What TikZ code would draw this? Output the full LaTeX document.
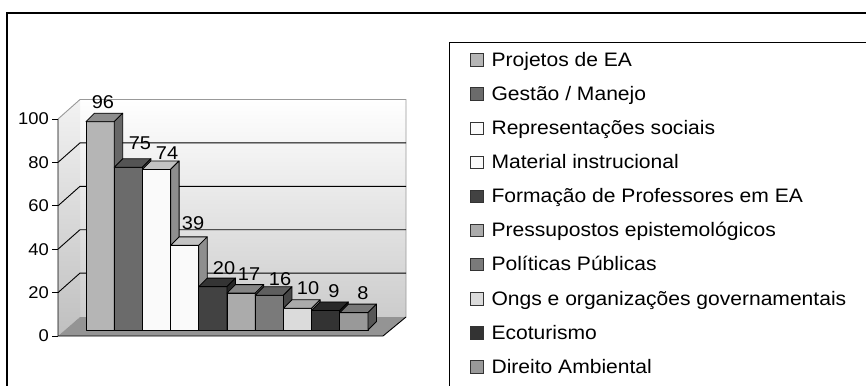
\documentclass[tikz,border=0pt]{standalone}
\usepackage{fontspec}
\setmainfont{Liberation Sans}[FakeStretch=1.08]
\usepackage{tikz}

\tikzset{
  gridline/.style={black,line width=0.9pt},
  wallline/.style={black!40,line width=0.9pt},
  barface/.style={draw=black,line width=0.8pt,line join=round},
  axislabel/.style={font=\fontsize{17}{18}\selectfont,anchor=east,inner sep=0pt},
  vallabel/.style={font=\fontsize{18.5}{19}\selectfont,inner sep=0pt},
  keybox/.style={draw=black!80,line width=0.8pt,minimum size=12.5pt,inner sep=0pt},
  legtext/.style={font=\fontsize{19.5}{22}\selectfont,anchor=base west,inner sep=0pt}
}

\begin{document}
\begin{tikzpicture}[x=1pt,y=-1pt]
\useasboundingbox (0,0) rectangle (866,385);
\clip (0,0) rectangle (866,385);
% outer frame and legend frame
\draw[line width=1.4pt] (7,400) -- (7,13) -- (880,13);
\draw[line width=1pt] (449,400) -- (449,43) -- (880,43);
% walls and floor
\shade[top color=white,bottom color=black!20] (80,99.5) rectangle (406,317);
\shade[top color=black!5,bottom color=black!25] (58,119) -- (80,99.5) -- (80,317) -- (58,336) -- cycle;
\fill[black!42] (58,336) -- (80,317) -- (406,317) -- (383,336) -- cycle;
\draw[wallline] (58,119) -- (80,99.5) -- (406,99.5) -- (406,317);
\foreach \v in {20,40,60,80}
  \draw[gridline] (58,336-2.17*\v) -- (80,316.5-2.17*\v) -- (406,316.5-2.17*\v);
\draw[gridline] (58,119) -- (58,336) -- (383,336) -- (406,317);
% axis ticks and labels
\foreach \v in {0,20,40,60,80,100} {
  \draw[gridline] (52,336-2.17*\v) -- (58,336-2.17*\v);
  \node[axislabel] (ax\v) at (49,336-2.17*\v) {\v};
}
% bars: value / percent black / label x / label y
\foreach \v/\k/\lx/\ly [count=\i] in {96/29/103/102, 75/58/140/143, 74/2/167/153,
    39/2/193/223, 20/74/224/268, 17/33/249/274, 16/52/280/279,
    10/14/308/288, 9/80/334/291, 8/40/363/293} {
  \pgfmathsetmacro\xl{86+28.2*(\i-1)}
  \pgfmathsetmacro\xr{\xl+28.2}
  \pgfmathsetmacro\yt{330-2.17*\v}
  \colorlet{barc}{black!\k}
  \filldraw[barface,fill=barc] (\xl,330) rectangle (\xr,\yt);
  \filldraw[barface,fill=barc!78!black] (\xl,\yt) -- (\xl+8.5,\yt-8.5) -- (\xr+8.5,\yt-8.5) -- (\xr,\yt) -- cycle;
  \filldraw[barface,fill=barc!57!black] (\xr,\yt) -- (\xr+8.5,\yt-8.5) -- (\xr+8.5,321.5) -- (\xr,330) -- cycle;
  \node[vallabel] (val\i) at (\lx,\ly) {\v};
}
% legend
\foreach \k/\name [count=\i] in {29/{Projetos de EA}, 58/{Gestão / Manejo},
    2/{Representações sociais}, 2/{Material instrucional},
    74/{Formação de Professores em EA}, 33/{Pressupostos epistemológicos},
    52/{Políticas Públicas}, 14/{Ongs e organizações governamentais},
    80/{Ecoturismo}, 40/{Direito Ambiental}} {
  \pgfmathsetmacro\yk{60+34.1*(\i-1)}
  \node[keybox,fill=black!\k] (key\i) at (476.7,\yk) {};
  \node[legtext] (leg\i) at ([xshift=8pt,yshift=0.3pt]key\i.south east) {\name};
}
\end{tikzpicture}
\end{document}
